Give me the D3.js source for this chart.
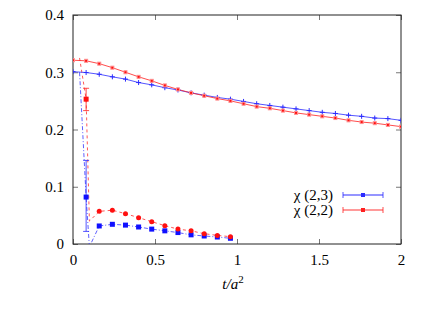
<!DOCTYPE html>
<html>
<head>
<meta charset="utf-8">
<script src="https://cdn.jsdelivr.net/npm/d3@7"></script>
<style>
  body { margin: 0; background: #fff; }
</style>
</head>
<body>
<div id="chart"></div>
<script>
// flow time for the two long (solid) series
var tLong = [0, 0.08, 0.16, 0.24, 0.32, 0.40, 0.48, 0.56, 0.64, 0.72, 0.80, 0.88, 0.96,
             1.04, 1.12, 1.20, 1.28, 1.36, 1.44, 1.52, 1.60, 1.68, 1.76, 1.84, 1.92, 2.00];
var chi23 = [0.301, 0.2995, 0.2965, 0.292, 0.288, 0.282, 0.278, 0.273, 0.269, 0.264, 0.260, 0.256, 0.253,
             0.249, 0.245, 0.242, 0.239, 0.236, 0.233, 0.230, 0.228, 0.225, 0.223, 0.220, 0.219, 0.216];
var chi22 = [0.321, 0.320, 0.315, 0.308, 0.300, 0.292, 0.285, 0.277, 0.270, 0.264, 0.259, 0.254, 0.250,
             0.245, 0.240, 0.237, 0.233, 0.229, 0.226, 0.223, 0.220, 0.216, 0.213, 0.211, 0.208, 0.205];

// short (dashed) series
var tShort = [0.04, 0.08, 0.10, 0.16, 0.24, 0.32, 0.40, 0.48, 0.56, 0.64, 0.72, 0.80, 0.88, 0.96];
var blueShort = [0.300, 0.082, -0.005, 0.0315, 0.0344, 0.033, 0.0297, 0.026, 0.023, 0.020, 0.016, 0.014, 0.0122, 0.010];
var redShort  = [0.325, 0.253, 0.040, 0.057, 0.059, 0.053, 0.046, 0.039, 0.032, 0.026, 0.023, 0.018, 0.015, 0.0128];
// error bars at t = 0.08
var blueErr = [0.022, 0.146];
var redErr  = [0.233, 0.272];

var xTicks = [0, 0.5, 1, 1.5, 2];
var yTicks = [0, 0.1, 0.2, 0.3, 0.4];
var legendLabels = ["χ (2,3)", "χ (2,2)"];

var FONT = "Liberation Serif";

var width = 442, height = 309;
var margin = {top: 15, right: 41, bottom: 65, left: 73};
var w = width - margin.left - margin.right,
    h = height - margin.top - margin.bottom;

var blue = "#2b2bff", red = "#ff2020";

var svg = d3.select("#chart").append("svg")
    .attr("width", width)
    .attr("height", height)
    .attr("font-family", FONT);

var g = svg.append("g")
    .attr("transform", "translate(" + margin.left + "," + margin.top + ")");

var x = d3.scaleLinear().domain([0, 2]).range([0, w]);
var y = d3.scaleLinear().domain([0, 0.4]).range([h, 0]);

svg.append("defs").append("clipPath").attr("id", "clip")
  .append("rect").attr("width", w).attr("height", h);

// axes, ticks pointing inward, mirrored
g.append("g")
    .attr("transform", "translate(0," + h + ")")
    .call(d3.axisBottom(x).tickValues(xTicks).tickSize(-5).tickPadding(10).tickFormat(d3.format("")));
g.append("g")
    .call(d3.axisTop(x).tickValues(xTicks).tickSize(-5).tickFormat(""));
g.append("g")
    .call(d3.axisLeft(y).tickValues(yTicks).tickSize(-5).tickPadding(9).tickFormat(d3.format("")));
g.append("g")
    .attr("transform", "translate(" + w + ",0)")
    .call(d3.axisRight(y).tickValues(yTicks).tickSize(-5).tickFormat(""));

g.selectAll(".domain").remove();
g.selectAll("g").attr("font-family", FONT);
g.selectAll(".tick line").attr("stroke", "#777");
g.selectAll(".tick text").attr("font-size", 15).attr("fill", "#000")
    .attr("font-family", FONT);

g.append("rect")
    .attr("width", w).attr("height", h)
    .attr("fill", "none").attr("stroke", "#222").attr("stroke-width", 1);

var plot = g.append("g").attr("clip-path", "url(#clip)");

function pts(ts, vs) {
  return ts.map(function(t, i) { return [t, vs[i]]; });
}
var line = d3.line().x(function(d) { return x(d[0]); }).y(function(d) { return y(d[1]); });

// dashed short series
plot.append("path").datum(pts(tShort, redShort))
    .attr("d", line).attr("fill", "none").attr("stroke", red)
    .attr("stroke-opacity", 0.75).attr("stroke-dasharray", "3,3");
plot.append("path").datum(pts(tShort, blueShort))
    .attr("d", line).attr("fill", "none").attr("stroke", blue)
    .attr("stroke-opacity", 0.75).attr("stroke-dasharray", "4,2,1,2");

// error bars at t = 0.08
[[blueErr, blue], [redErr, red]].forEach(function(e) {
  var xe = x(tShort[1]);
  plot.append("line").attr("x1", xe).attr("x2", xe)
      .attr("y1", y(e[0][0])).attr("y2", y(e[0][1]))
      .attr("stroke", e[1]).attr("stroke-opacity", 0.8);
  e[0].forEach(function(v) {
    plot.append("line").attr("x1", xe - 3).attr("x2", xe + 3)
        .attr("y1", y(v)).attr("y2", y(v))
        .attr("stroke", e[1]).attr("stroke-opacity", 0.8);
  });
});

// short series markers (the 0.04 and 0.10 samples carry no marker)
var blueMarked = pts(tShort, blueShort).filter(function(d, i) { return i !== 0 && i !== 2; });
plot.selectAll(".bsq").data(blueMarked).enter().append("rect")
    .attr("x", function(d) { return x(d[0]) - 2.5; })
    .attr("y", function(d) { return y(d[1]) - 2.5; })
    .attr("width", 5).attr("height", 5).attr("fill", "#1010ff");
var redMarked = pts(tShort, redShort).filter(function(d, i) { return i > 2; });
plot.selectAll(".rc").data(redMarked).enter().append("circle")
    .attr("cx", function(d) { return x(d[0]); })
    .attr("cy", function(d) { return y(d[1]); })
    .attr("r", 2.5)
    .attr("fill", "#ff1010");
plot.append("rect")
    .attr("x", x(tShort[1]) - 2.5).attr("y", y(redShort[1]) - 2.5)
    .attr("width", 5).attr("height", 5).attr("fill", "#ff1010");

// solid long series
plot.append("path").datum(pts(tLong, chi23))
    .attr("d", line).attr("fill", "none").attr("stroke", blue).attr("stroke-opacity", 0.8);
plot.append("path").datum(pts(tLong, chi22))
    .attr("d", line).attr("fill", "none").attr("stroke", red).attr("stroke-opacity", 0.8);

plot.selectAll(".plus").data(pts(tLong, chi23)).enter().append("path")
    .attr("d", function(d) {
      var px = x(d[0]), py = y(d[1]);
      return "M" + (px - 2.5) + "," + py + "H" + (px + 2.5) + "M" + px + "," + (py - 2.5) + "V" + (py + 2.5);
    })
    .attr("stroke", blue).attr("stroke-width", 1);

plot.selectAll(".rsq").data(pts(tLong, chi22)).enter().append("rect")
    .attr("x", function(d) { return x(d[0]) - 1.5; })
    .attr("y", function(d) { return y(d[1]) - 1.5; })
    .attr("width", 3).attr("height", 3)
    .attr("fill", "#ff1010").attr("stroke", "#ff9090").attr("stroke-width", 1);

// legend
var legend = g.append("g");
[[blue, 195, 2, 0.5], [red, 210, 1, 0.9]].forEach(function(l, i) {
  var ly = l[1] - margin.top;
  var x0 = 343 - margin.left, x1 = 383 - margin.left, xm = 363 - margin.left;
  legend.append("text")
      .attr("x", 333 - margin.left).attr("y", ly + 5)
      .attr("text-anchor", "end").attr("font-size", 15)
      .attr("font-family", FONT)
      .text(legendLabels[i]);
  legend.append("line").attr("x1", x0).attr("x2", x1).attr("y1", ly).attr("y2", ly)
      .attr("stroke", l[0]).attr("stroke-width", l[2]).attr("stroke-opacity", l[3]);
  [x0, x1].forEach(function(xx) {
    legend.append("line").attr("x1", xx).attr("x2", xx).attr("y1", ly - 3).attr("y2", ly + 3)
        .attr("stroke", l[0]).attr("stroke-opacity", 0.8);
  });
  legend.append("rect").attr("x", xm - 2).attr("y", ly - 2).attr("width", 4).attr("height", 4)
      .attr("fill", l[0]);
});

// x axis label
var xl = svg.append("text")
    .attr("x", 233).attr("y", 289)
    .attr("text-anchor", "middle").attr("font-size", 15)
    .attr("font-family", FONT);
xl.append("tspan").attr("font-style", "italic").text("t/a");
xl.append("tspan").attr("font-size", 11).attr("dy", -6).text("2");
</script>
</body>
</html>
